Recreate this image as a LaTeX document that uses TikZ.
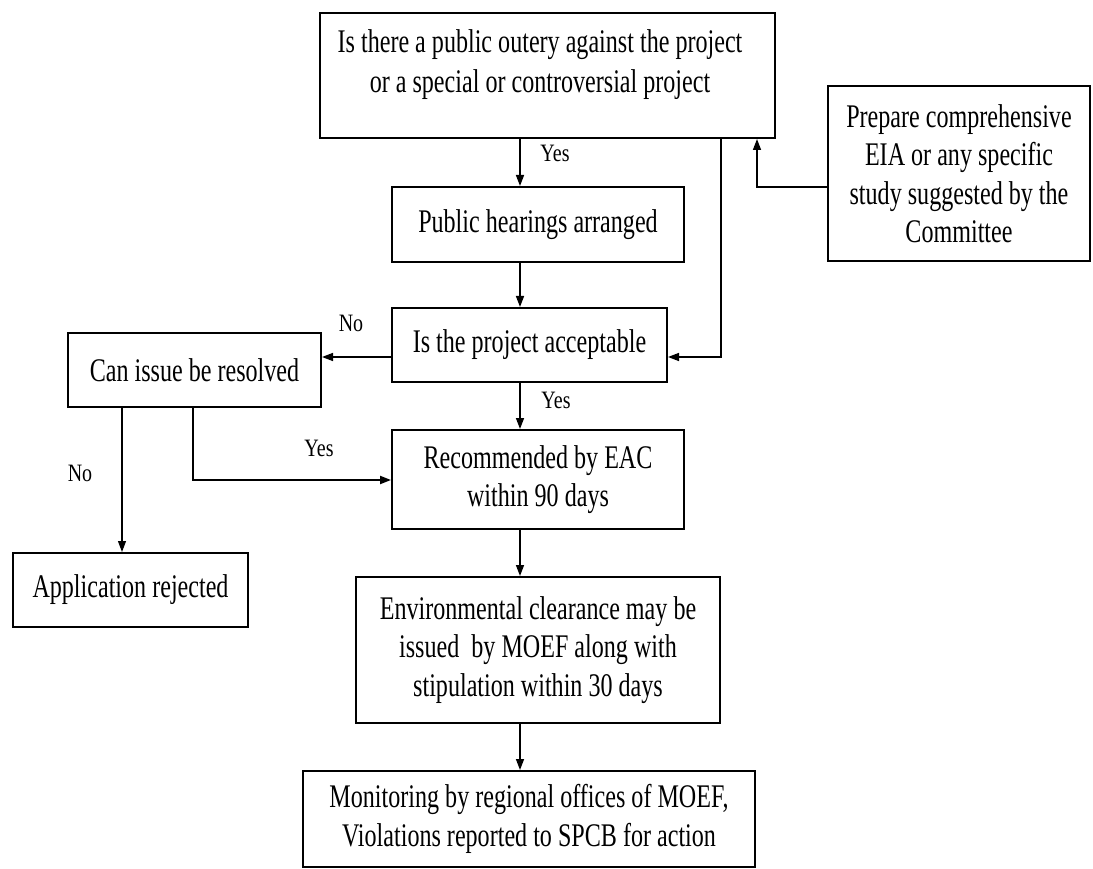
\documentclass[tikz,border=0pt]{standalone}
\usepackage{fontspec}
\usetikzlibrary{arrows.meta}
\newfontfamily\boxfont[FakeStretch=0.73]{Liberation Serif}
\newfontfamily\tagfont[FakeStretch=0.8]{Liberation Serif}
\begin{document}
\begin{tikzpicture}[x=1pt,y=-1pt,
  box/.style={draw, line width=2pt, inner sep=0pt, align=center,
    font=\boxfont\fontsize{33}{38.5}\selectfont},
  txt/.style={inner sep=0pt, align=center,
    font=\boxfont\fontsize{33}{40}\selectfont},
  tag/.style={inner sep=0pt, font=\tagfont\fontsize{25}{30}\selectfont},
  arr/.style={line width=1.5pt, -{Triangle[length=11pt,width=8pt]}},
  ]
\useasboundingbox[fill=white] (0,0) rectangle (1093,869);

% boxes
\node[box, minimum width=455pt, minimum height=125pt] (top) at (547.5,75.5) {};
\node[txt] (toptext) at (540,64.5)
  {Is there a public outery against the project\\or a special or controversial project};
\node[box, minimum width=262pt, minimum height=175pt] (study) at (959,173.5)
  {Prepare comprehensive\\EIA or any specific\\study suggested by the\\Committee};
\node[box, minimum width=292pt, minimum height=75pt] (hear) at (538,224.5)
  {Public hearings arranged};
\node[box, minimum width=275pt, minimum height=74pt] (accept) at (529.5,345)
  {Is the project acceptable};
\node[box, minimum width=253pt, minimum height=74pt] (resolve) at (194.5,370)
  {Can issue be resolved};
\node[box, minimum width=292pt, minimum height=99pt] (recom) at (538,479.5)
  {Recommended by EAC\\within 90 days};
\node[box, minimum width=235pt, minimum height=74pt] (reject) at (130.5,590)
  {Application rejected};
\node[box, minimum width=364pt, minimum height=146pt] (env) at (538,650)
  {Environmental clearance may be\\issued\ \ by MOEF along with\\stipulation within 30 days};
\node[box, minimum width=452pt, minimum height=96pt] (monit) at (529,819)
  {Monitoring by regional offices of MOEF,\\Violations reported to SPCB for action};

% junction points of the connectors
\coordinate (col) at (520,0);
\coordinate (rj) at (721,357);
\coordinate (sj) at (757,187);
\coordinate (nj) at (122,0);
\coordinate (yj) at (193,480);

% connectors
\draw[arr] (top.south -| col) -- (hear.north -| col);
\draw[arr] (hear.south -| col) -- (accept.north -| col);
\draw[arr] (top.south -| rj) |- (accept.east |- rj);
\draw[arr] (study.west |- sj) -| (top.south -| sj);
\draw[arr] (accept.west |- rj) -- (resolve.east |- rj);
\draw[arr] (accept.south -| col) -- (recom.north -| col);
\draw[arr, line width=1.1pt] (resolve.south -| nj) -- (reject.north -| nj);
\draw[arr, line width=2pt] (resolve.south -| yj) |- (recom.west |- yj);
\draw[arr] (recom.south -| col) -- (env.north -| col);
\draw[arr] (env.south -| col) -- (monit.north -| col);

% branch labels
\node[tag] (y1) at (555,153) {Yes};
\node[tag] (n1) at (351,323) {No};
\node[tag] (y2) at (556,400) {Yes};
\node[tag] (y3) at (319,448) {Yes};
\node[tag] (n2) at (80,473) {No};
\end{tikzpicture}
\end{document}
